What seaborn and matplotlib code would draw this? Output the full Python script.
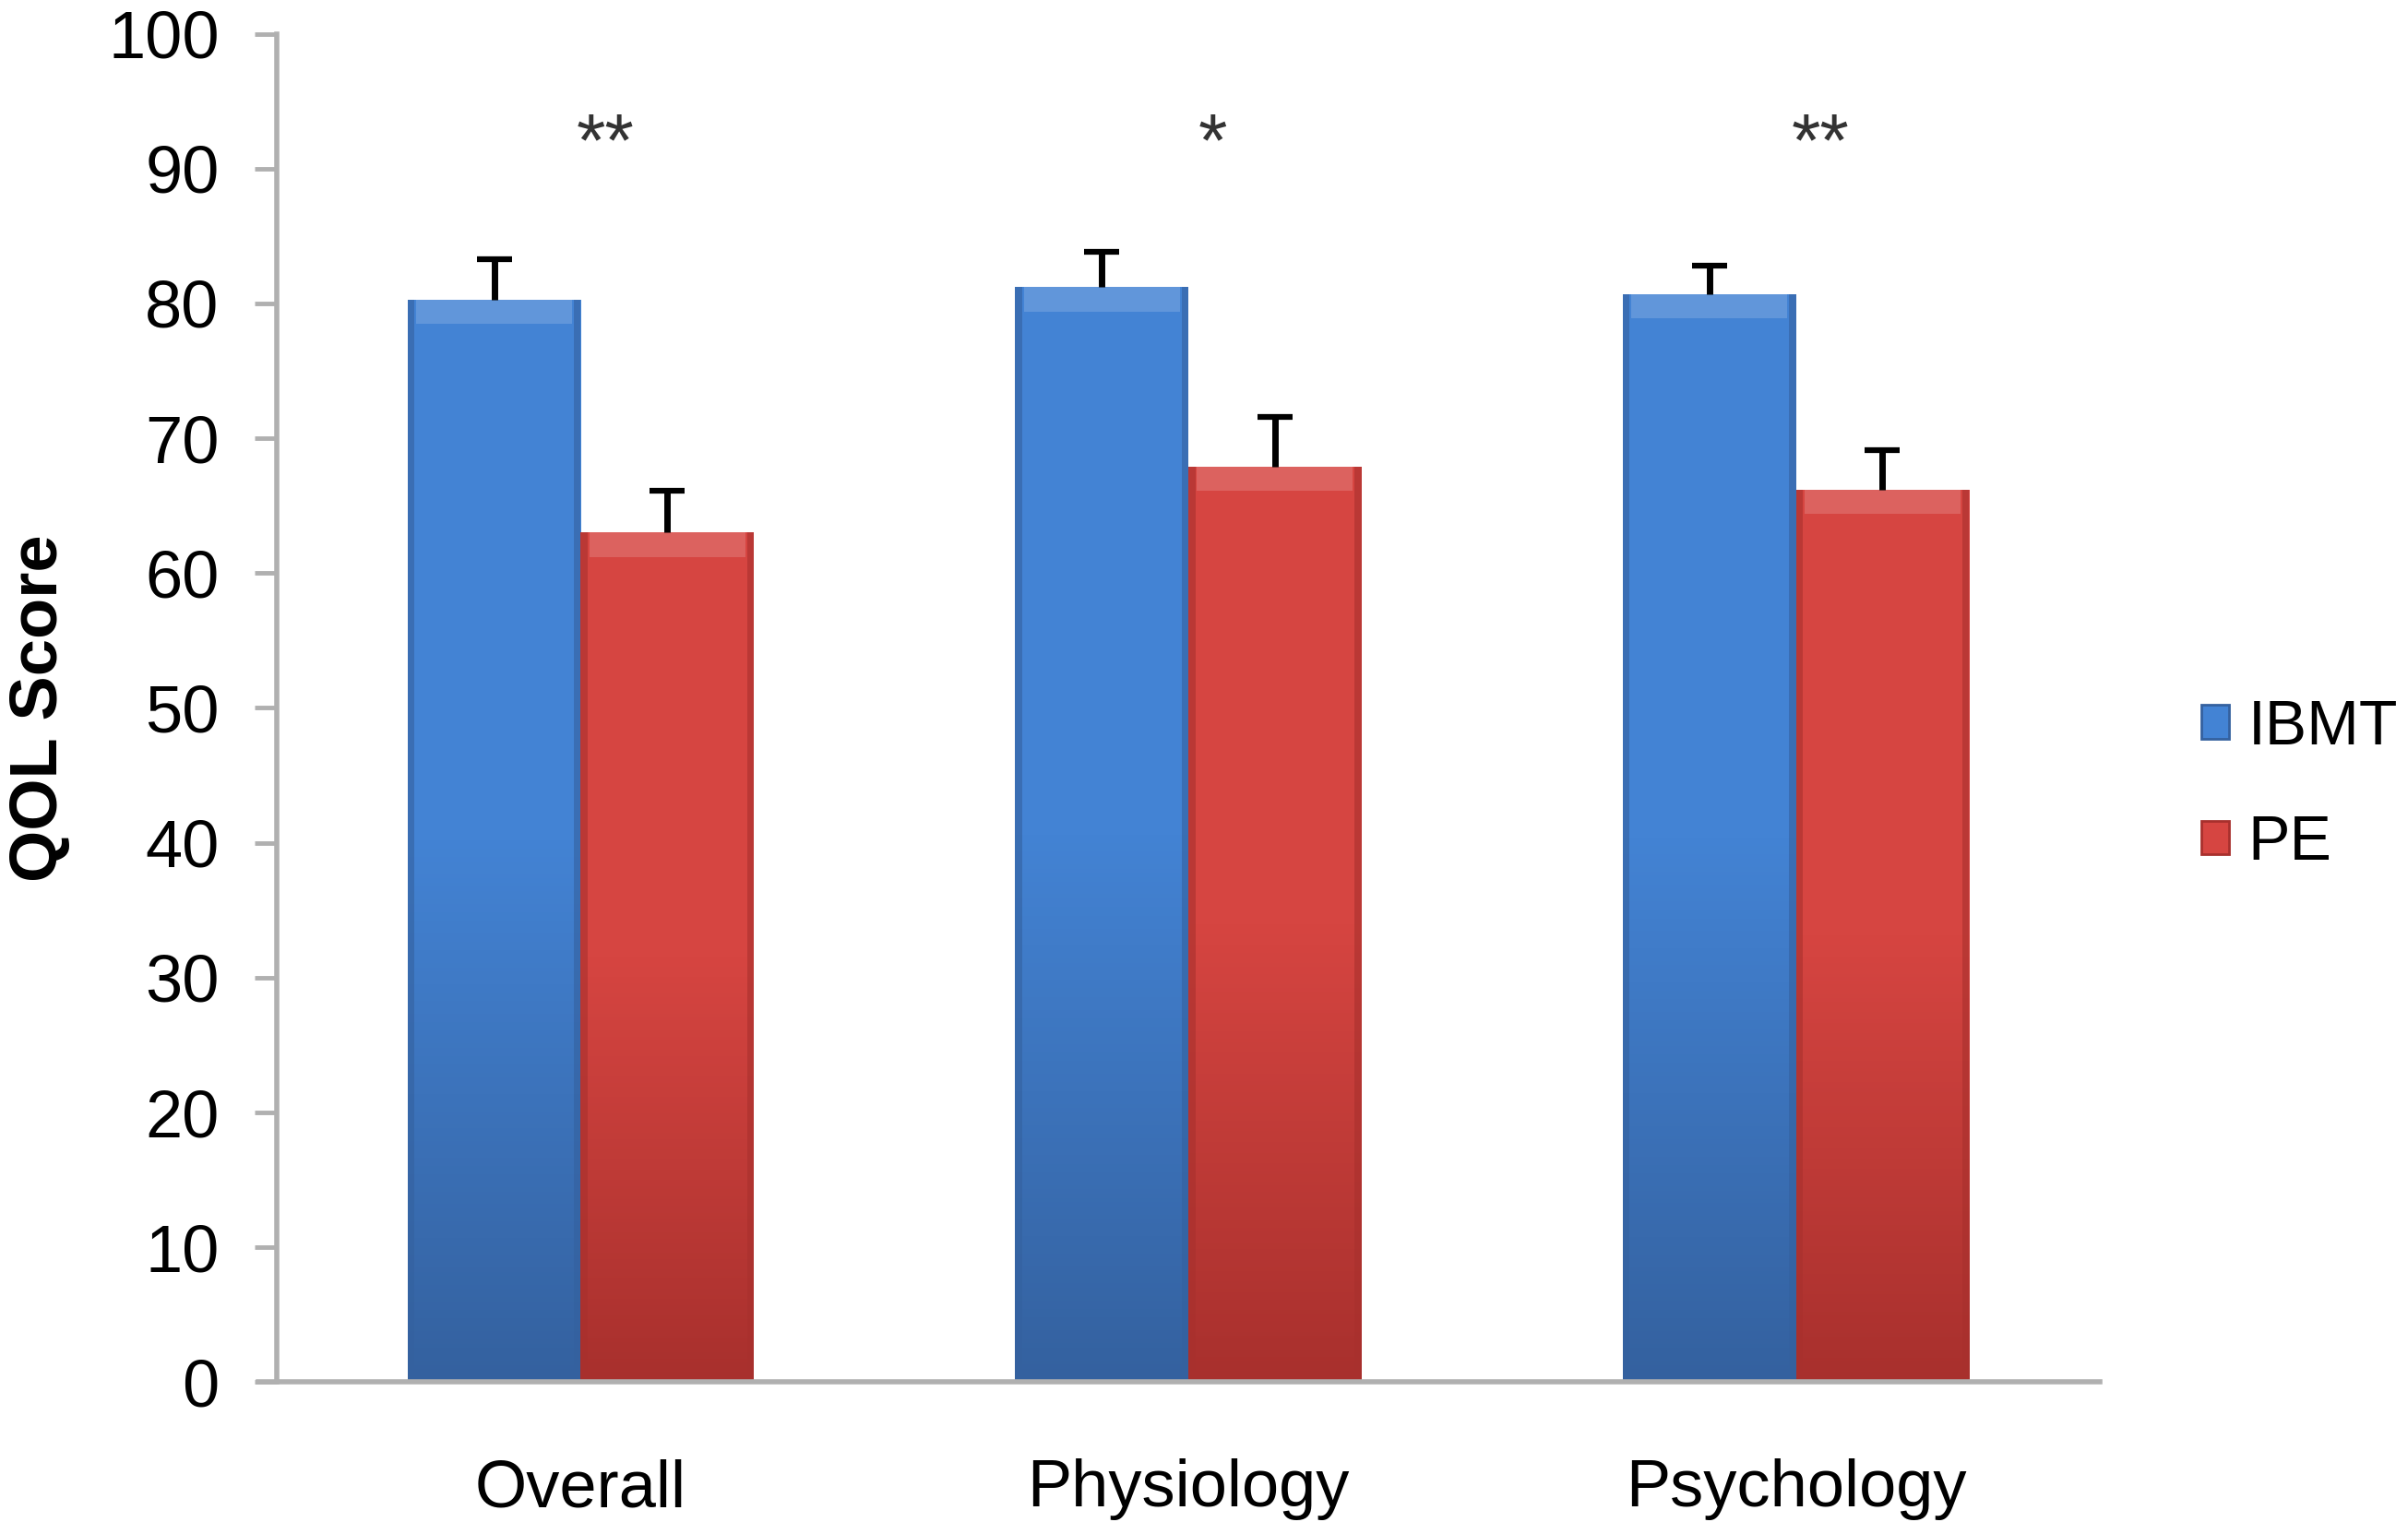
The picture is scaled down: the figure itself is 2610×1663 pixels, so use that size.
import numpy as np
import pandas as pd
import matplotlib
matplotlib.use('Agg')
import matplotlib.pyplot as plt
import matplotlib.colors as mcolors
from matplotlib.patches import Patch
import seaborn as sns

sns.set_style('white')
plt.rcParams['font.family'] = ['Liberation Sans', 'DejaVu Sans']
plt.rcParams['text.color'] = 'black'
plt.rcParams['xtick.color'] = 'black'
plt.rcParams['ytick.color'] = 'black'
plt.rcParams['axes.labelcolor'] = 'black'

categories = ['Overall', 'Physiology', 'Psychology']
groups = ['IBMT', 'PE']
ibmt_mean = [80.3, 81.2, 80.7]
ibmt_err = [3.0, 2.6, 2.1]
pe_mean = [63.0, 67.9, 66.2]
pe_err = [3.1, 3.7, 2.9]
stars = ['**', '*', '**']
star_y = 92.5
yticks = list(range(0, 101, 10))

COLORS = {'IBMT': '#4383d4', 'PE': '#d64541'}
DARK = {'IBMT': '#34619f', 'PE': '#a8302d'}

df = pd.DataFrame({
    'category': categories * 2,
    'group': ['IBMT'] * 3 + ['PE'] * 3,
    'score': ibmt_mean + pe_mean,
})

fig = plt.figure(figsize=(26.1, 16.63), dpi=100)
ax = fig.add_axes([0.115, 0.099, 0.757, 0.879])

sns.barplot(data=df, x='category', y='score', hue='group', order=categories,
            hue_order=groups, palette=COLORS, width=0.57, gap=0,
            errorbar=None, legend=False, ax=ax, saturation=1,
            edgecolor='none', linewidth=0)

errs = {'IBMT': ibmt_err, 'PE': pe_err}
for g, cont in zip(groups, ax.containers):
    cmap = mcolors.LinearSegmentedColormap.from_list(
        g, [DARK[g], COLORS[g], COLORS[g]])
    for bar, e in zip(cont, errs[g]):
        x0, w, h = bar.get_x(), bar.get_width(), bar.get_height()
        grad = np.linspace(0, 1, 256).reshape(-1, 1)
        im = ax.imshow(grad, cmap=cmap, aspect='auto', origin='lower',
                       extent=[x0, x0 + w, 0, h], zorder=bar.get_zorder())
        im.set_clip_path(bar)
        # darker edge strips on the sides, light band at the top
        ax.bar(x0 + w * 0.02, h, width=w * 0.04, color=DARK[g], alpha=0.6,
               linewidth=0, zorder=bar.get_zorder() + 0.1)
        ax.bar(x0 + w * 0.98, h, width=w * 0.04, color=DARK[g], alpha=0.6,
               linewidth=0, zorder=bar.get_zorder() + 0.1)
        ax.bar(x0 + w / 2, 1.8, bottom=h - 1.8, width=w * 0.9, color='white',
               alpha=0.16, linewidth=0, zorder=bar.get_zorder() + 0.2)
        ax.errorbar(x0 + w / 2, h, yerr=[[0], [e]], fmt='none', ecolor='black',
                    elinewidth=5, capsize=0, zorder=5)
        ax.plot(x0 + w / 2, h + e, marker='_', color='black', markersize=27,
                markeredgewidth=4.5, zorder=5)

for i, s in enumerate(stars):
    ax.text(i + 0.04, star_y - 0.8, s, ha='center', va='center', fontsize=58,
            color='#333333')

ax.set_xlim(-0.5, 2.5)
ax.set_ylim(0, 100)
ax.set_yticks(yticks)
ax.tick_params(axis='y', labelsize=52, length=17, width=3.5, color='#b0b0b0',
               left=True, pad=28, labelcolor='black')
ax.tick_params(axis='x', labelsize=52, bottom=False, pad=56, labelcolor='black')
ax.set_xlabel('')
ax.set_ylabel('QOL Score', fontsize=52, fontweight='bold')
ax.yaxis.set_label_coords(-0.113, 0.5)
for side in ['top', 'right']:
    ax.spines[side].set_visible(False)
for side in ['left', 'bottom']:
    ax.spines[side].set_color('#b0b0b0')
    ax.spines[side].set_linewidth(4)
ax.spines['bottom'].set_bounds(-0.53, 2.5)
ax.grid(False)

handles = [Patch(facecolor=COLORS[g], edgecolor=DARK[g], linewidth=2) for g in groups]
ax.legend(handles, groups, loc='center left', bbox_to_anchor=(0.914, 0.488),
          bbox_transform=fig.transFigure, frameon=False, fontsize=49,
          handlelength=0.45, handleheight=0.45, handletextpad=0.3,
          labelspacing=0.9, borderpad=0, borderaxespad=0)

fig.savefig('out.png', dpi=100)
